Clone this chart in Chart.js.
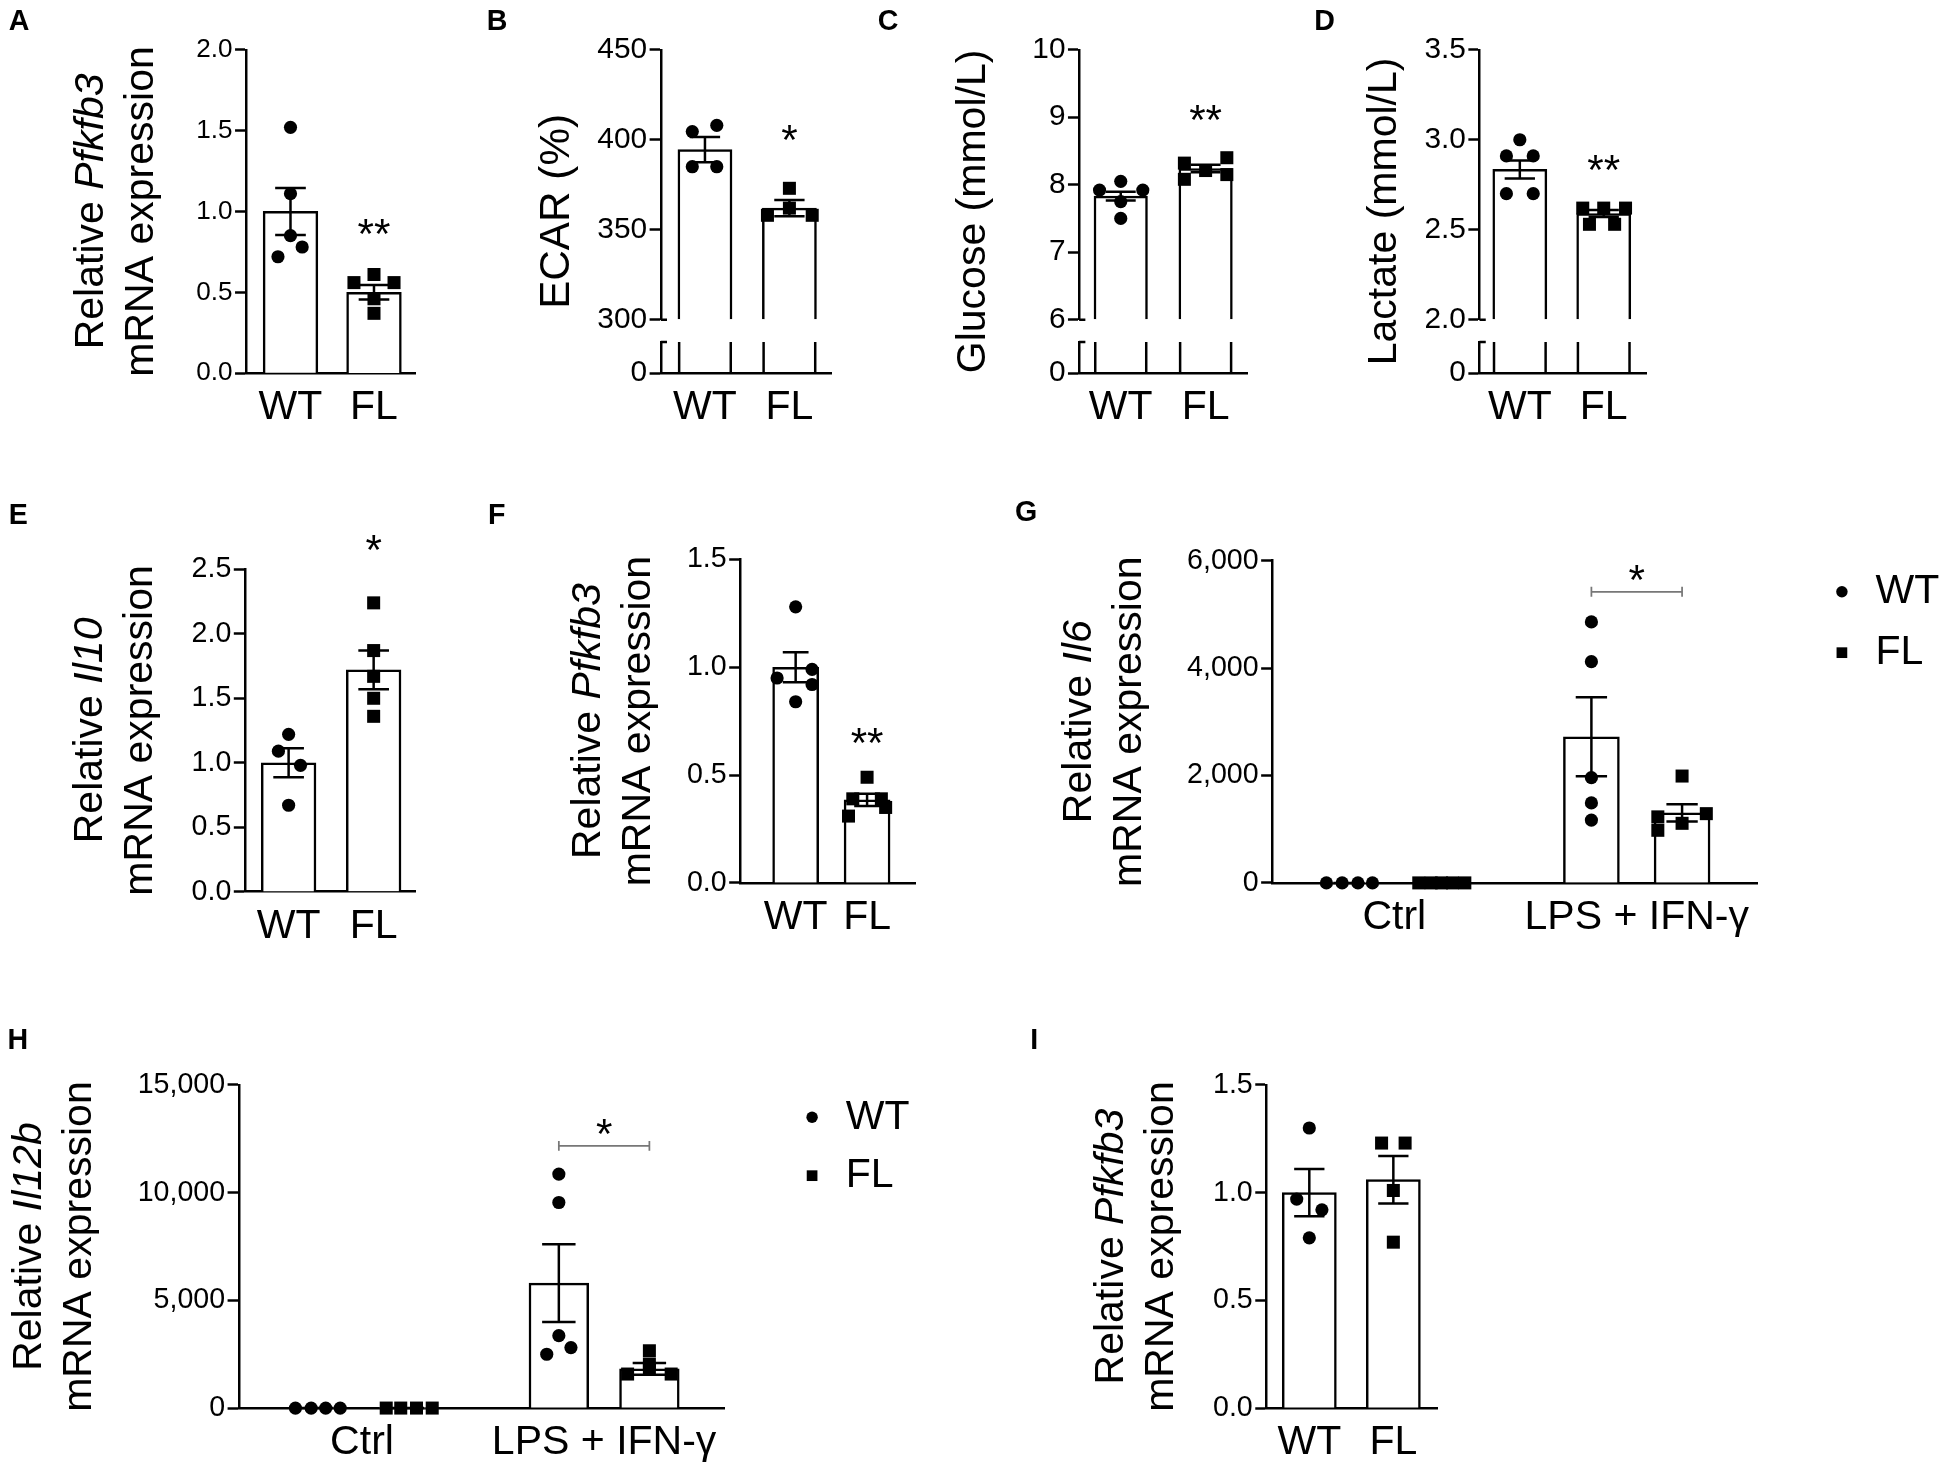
<!DOCTYPE html>
<html>
<head>
<meta charset="utf-8">
<title>Pfkfb3 panels</title>
<script src="https://cdn.jsdelivr.net/npm/chart.js@4.4.1/dist/chart.umd.min.js"></script>
<style>
  html, body { margin: 0; padding: 0; background: #fff; }
  #page { position: relative; width: 1950px; height: 1471px; overflow: hidden; background: #fff; }
  #page canvas { position: absolute; }
</style>
</head>
<body>
<div id="page"></div>
<script>
// ---------- values ----------
const genotypes = ['WT', 'FL'];
const treatments = ['Ctrl', 'LPS + IFN-γ'];

// A  Pfkfb3 mRNA
const aTicks = [0, 0.5, 1.0, 1.5, 2.0];
const aMean = [1.0, 0.5];
const aSem = [0.145, 0.045];
const aWT = [1.52, 1.11, 0.85, 0.78, 0.72];
const aWTdx = [0, 0, 0, 0.14, -0.15];
const aFL = [0.61, 0.56, 0.56, 0.46, 0.37];
const aFLdx = [0, -0.24, 0.24, 0, 0];

// B  ECAR
const bTicks = [300, 350, 400, 450];
const bMean = [394.5, 362];
const bSem = [7, 4.5];
const bWT = [408, 404.5, 385, 385];
const bWTdx = [0.14, -0.15, -0.15, 0.14];
const bFL = [373, 362, 358, 358];
const bFLdx = [0, 0, -0.26, 0.27];

// C  glucose
const cTicks = [6, 7, 8, 9, 10];
const cMean = [7.83, 8.24];
const cSem = [0.065, 0.055];
const cWT = [8.05, 7.92, 7.92, 7.75, 7.5];
const cWTdx = [0, -0.25, 0.26, 0, 0];
const cFL = [8.32, 8.08, 8.21, 8.4, 8.15];
const cFLdx = [-0.25, -0.25, 0, 0.25, 0.25];

// D  lactate
const dTicks = [2.0, 2.5, 3.0, 3.5];
const dMean = [2.835, 2.59];
const dSem = [0.05, 0.02];
const dWT = [3.0, 2.91, 2.91, 2.70, 2.70];
const dWTdx = [0, -0.16, 0.16, -0.16, 0.16];
const dFL = [2.62, 2.62, 2.62, 2.53, 2.53];
const dFLdx = [-0.25, 0, 0.26, -0.17, 0.13];

// E  Il10
const eTicks = [0, 0.5, 1.0, 1.5, 2.0, 2.5];
const eMean = [1.0, 1.72];
const eSem = [0.112, 0.15];
const eWT = [1.22, 1.09, 0.98, 0.67];
const eWTdx = [0, -0.12, 0.14, 0];
const eFL = [2.24, 1.87, 1.67, 1.5, 1.36];
const eFLdx = [0, 0, 0, 0, 0];

// F  Pfkfb3 mRNA
const fTicks = [0, 0.5, 1.0, 1.5];
const fMean = [1.0, 0.385];
const fSem = [0.07, 0.028];
const fWT = [1.28, 0.99, 0.95, 0.92, 0.84];
const fWTdx = [0, 0.23, -0.26, 0.23, 0];
const fFL = [0.49, 0.39, 0.39, 0.35, 0.31];
const fFLdx = [0, -0.2, 0.2, 0.26, -0.26];

// G  Il6
const gTicks = [0, 2000, 4000, 6000];
const gMeanWT = [1, 2720];
const gSemWT = [0.2, 735];
const gMeanFL = [1, 1305];
const gSemFL = [0.2, 160];
const gWTctrl = [1, 1, 1, 1];
const gWTctrlDx = [-0.093, -0.028, 0.037, 0.097];
const gWTlps = [4860, 4120, 1960, 1490, 1170];
const gWTlpsDx = [0, 0, 0, 0, 0];
const gFLctrl = [1, 1, 1, 1, 1];
const gFLctrlDx = [-0.086, -0.035, 0.008, 0.053, 0.104];
const gFLlps = [1990, 1290, 1230, 1110, 980];
const gFLlpsDx = [0, 0.1, -0.1, 0, -0.1];

// H  Il12b
const hTicks = [0, 5000, 10000, 15000];
const hMeanWT = [1, 5800];
const hSemWT = [0.2, 1800];
const hMeanFL = [1, 1820];
const hSemFL = [0.2, 270];
const hWTctrl = [1, 1, 1, 1];
const hWTctrlDx = [-0.088, -0.023, 0.037, 0.097];
const hWTlps = [10860, 9540, 3360, 2810, 2500];
const hWTlpsDx = [0, 0, 0, 0.05, -0.05];
const hFLctrl = [1, 1, 1, 1];
const hFLctrlDx = [-0.087, -0.027, 0.038, 0.103];
const hFLlps = [2660, 2040, 1810, 1580, 1580];
const hFLlpsDx = [0, 0, 0, -0.09, 0.09];

// I  Pfkfb3 mRNA
const iTicks = [0, 0.5, 1.0, 1.5];
const iMean = [1.0, 1.06];
const iSem = [0.11, 0.11];
const iWT = [1.30, 0.97, 0.92, 0.79];
const iWTdx = [0, -0.15, 0.15, 0];
const iFL = [1.23, 1.23, 1.01, 0.77];
const iFLdx = [-0.14, 0.14, 0, 0];

// ---------- drawing helpers ----------
const S = 1950 / 1568;          // layout below is measured on a 1568 px wide copy
const px = v => v * S;
const FAM = "'Liberation Sans', Arial, Helvetica, sans-serif";
const LW = px(2);
const YW = 80;                  // width of the y scale box (labels are clipped to it)
const catFont = { family: FAM, size: px(33) };
const R_DOT = px(5.3), R_SQ = px(7.4);
const page = document.getElementById('page');

const pts = (vals, dx, cx) => vals.map((v, i) => ({ x: cx + dx[i], y: v }));
const bars = (means, xs) => means.map((m, i) => ({ x: xs[i], y: m }));
const fix1 = v => v.toFixed(1);
const plain = v => String(v);
const comma = v => v.toLocaleString('en-US');

function yAxis(ticks, fmt, fs, extra) {
  return Object.assign({
    type: 'linear', position: 'left',
    min: ticks[0], max: ticks[ticks.length - 1],
    afterBuildTicks: s => { s.ticks = ticks.map(v => ({ value: v })); },
    afterFit: s => { s.width = px(YW); },
    ticks: { callback: fmt, font: { family: FAM, size: px(fs) }, color: '#000', padding: px(2) },
    grid: { drawOnChartArea: false, drawTicks: true, tickLength: px(9), tickWidth: LW, tickColor: '#000', color: '#000' },
    border: { display: true, color: '#000', width: LW }
  }, extra);
}

function xAxis(range, labels) {
  return {
    type: 'linear', min: range[0], max: range[1], offset: false,
    afterBuildTicks: s => { s.ticks = labels.map((_, i) => ({ value: i })); },
    afterFit: s => { s.height = px(50); },
    ticks: { callback: v => labels[v], font: catFont, color: '#000', padding: px(8), maxRotation: 0, autoSkip: false },
    grid: { display: false, drawTicks: false },
    border: { display: true, color: '#000', width: LW }
  };
}

function deco(p, L, T) {
  const cx = v => px(v - L), cy = v => px(v - T);
  return {
    id: 'deco',
    afterDatasetDraw(chart, args) {
      const ds = chart.data.datasets[args.index];
      if (!ds.errors) return;
      const y = chart.scales.y, ctx = chart.ctx;
      ctx.save();
      ctx.strokeStyle = '#000';
      ctx.lineWidth = LW;
      args.meta.data.forEach((bar, i) => {
        const m = ds.data[i].y, e = ds.errors[i];
        const y1 = y.getPixelForValue(m + e), y2 = y.getPixelForValue(m - e);
        const hw = bar.width * 0.28;
        ctx.beginPath();
        ctx.moveTo(bar.x, y1); ctx.lineTo(bar.x, y2);
        ctx.moveTo(bar.x - hw, y1); ctx.lineTo(bar.x + hw, y1);
        ctx.moveTo(bar.x - hw, y2); ctx.lineTo(bar.x + hw, y2);
        ctx.stroke();
      });
      ctx.restore();
    },
    afterDraw(chart) {
      const ctx = chart.ctx, xs = chart.scales.x, ys = chart.scales.y;
      ctx.save();
      ctx.fillStyle = '#000';
      ctx.strokeStyle = '#000';

      // panel letter
      ctx.font = `bold ${px(23)}px ${FAM}`;
      ctx.textAlign = 'left';
      ctx.textBaseline = 'alphabetic';
      ctx.fillText(p.letter[0], cx(p.letter[1]), cy(p.letter[2] + 23 * 0.716));

      // rotated y title, italic gene names
      const size = px(p.titleSize || 33);
      const mid = cy((p.area[2] + p.area[3]) / 2);
      p.title.forEach((segs, li) => {
        ctx.save();
        ctx.translate(cx(p.titleX[li]), mid);
        ctx.rotate(-Math.PI / 2);
        let total = 0;
        segs.forEach(([t, it]) => { ctx.font = `${it ? 'italic ' : ''}${size}px ${FAM}`; total += ctx.measureText(t).width; });
        let x = -total / 2;
        ctx.textAlign = 'left';
        segs.forEach(([t, it]) => {
          ctx.font = `${it ? 'italic ' : ''}${size}px ${FAM}`;
          ctx.fillText(t, x, 0);
          x += ctx.measureText(t).width;
        });
        ctx.restore();
      });

      // axis break: short bar stubs and the two break ticks crossing the axis
      if (p.broken) {
        const y0 = chart.scales.y0;
        const top = y0.getPixelForValue(1), bot = y0.getPixelForValue(0);
        const ax = chart.chartArea.left;
        ctx.lineWidth = LW;
        ctx.beginPath();
        [top, ys.getPixelForValue(p.ticks[0])].forEach(yy => { ctx.moveTo(ax, yy); ctx.lineTo(ax + px(5), yy); });
        ctx.stroke();
        chart.getSortedVisibleDatasetMetas().filter(m => m.type === 'bar').forEach(m => {
          m.data.forEach(bar => {
            const h = bar.width / 2 - LW / 2;
            ctx.beginPath();
            ctx.moveTo(bar.x - h, top); ctx.lineTo(bar.x - h, bot);
            ctx.moveTo(bar.x + h, top); ctx.lineTo(bar.x + h, bot);
            ctx.stroke();
          });
        });
      }

      // significance marks
      const starSize = px(34);
      const star = (t, x, yv) => {
        ctx.font = `${starSize}px ${FAM}`;
        ctx.textAlign = 'center';
        ctx.textBaseline = 'alphabetic';
        ctx.fillText(t, x, ys.getPixelForValue(yv) + 0.575 * starSize);
      };
      (p.marks || []).forEach(m => star(m.t, xs.getPixelForValue(m.x), m.y));
      if (p.bracket) {
        const b = p.bracket;
        const x1 = xs.getPixelForValue(b.x1), x2 = xs.getPixelForValue(b.x2), yb = ys.getPixelForValue(b.y);
        ctx.strokeStyle = '#777';
        ctx.lineWidth = px(1.4);
        ctx.beginPath();
        ctx.moveTo(x1, yb); ctx.lineTo(x2, yb);
        ctx.moveTo(x1, yb - px(4)); ctx.lineTo(x1, yb + px(4));
        ctx.moveTo(x2, yb - px(4)); ctx.lineTo(x2, yb + px(4));
        ctx.stroke();
        star('*', (x1 + x2) / 2, b.star);
      }

      // legend
      if (p.legend) {
        const lg = p.legend;
        ctx.fillStyle = '#000';
        ctx.beginPath();
        ctx.arc(cx(lg.x), cy(lg.y1), px(4.6), 0, Math.PI * 2);
        ctx.fill();
        const sq = px(8.6);
        ctx.fillRect(cx(lg.x) - sq / 2, cy(lg.y2) - sq / 2, sq, sq);
        ctx.font = `${px(33)}px ${FAM}`;
        ctx.textAlign = 'left';
        ctx.textBaseline = 'middle';
        ctx.fillText(genotypes[0], cx(lg.tx), cy(lg.y1));
        ctx.fillText(genotypes[1], cx(lg.tx), cy(lg.y2));
      }
      ctx.restore();
    }
  };
}

function panel(p) {
  const [L, T, R, B] = p.box;
  const [ax, ex, top, zero] = p.area;
  const fs = p.tickSize || 23;
  const cv = document.createElement('canvas');
  cv.width = Math.round(px(R - L));
  cv.height = Math.round(px(B - T));
  Object.assign(cv.style, { left: px(L) + 'px', top: px(T) + 'px', width: cv.width + 'px', height: cv.height + 'px' });
  page.appendChild(cv);

  const scales = { x: xAxis(p.xr, p.cats) };
  if (p.broken) {
    const [brk, stub] = p.broken;
    scales.y0 = yAxis([0, 1], v => (v === 0 ? '0' : ''), fs, { stack: 'v', stackWeight: zero - stub });
    scales.yGap = {
      type: 'linear', position: 'left', stack: 'v', stackWeight: stub - brk, min: 0, max: 1,
      afterFit: s => { s.width = px(YW); },
      ticks: { display: false }, grid: { display: false }, border: { display: false }
    };
    scales.y = yAxis(p.ticks, p.fmt, fs, { stack: 'v', stackWeight: brk - top });
  } else {
    scales.y = yAxis(p.ticks, p.fmt, fs, {});
  }

  const datasets = [];
  p.points.forEach(s => datasets.push({
    type: 'scatter', label: s.label, data: s.data, yAxisID: 'y',
    pointStyle: s.label === 'WT' ? 'circle' : 'rect',
    pointRadius: s.label === 'WT' ? R_DOT : R_SQ,
    pointBackgroundColor: '#000', pointBorderWidth: 0, clip: false
  }));
  p.bars.forEach(b => datasets.push({
    type: 'bar', label: b.label, data: b.data, errors: b.errors, yAxisID: 'y',
    base: p.ticks[0],
    backgroundColor: '#fff', borderColor: '#000', borderWidth: LW,
    barThickness: px(p.barW), grouped: false, clip: false
  }));

  new Chart(cv, {
    type: 'bar',
    data: { datasets },
    options: {
      responsive: false, maintainAspectRatio: false, animation: false, devicePixelRatio: 1, events: [],
      layout: { padding: { left: px(ax - L - YW), right: px(R - ex), top: px(top - T), bottom: px(B - zero - 50) } },
      plugins: { legend: { display: false }, tooltip: { enabled: false } },
      scales
    },
    plugins: [deco(p, L, T)]
  });
}

const relTitle = gene => [[['Relative ', 0], [gene, 1]], [['mRNA expression', 0]]];
const G2 = 0.187; // half distance between WT and FL bars inside a treatment group

// ---------- panels ----------
panel({
  box: [0, 0, 372, 365], area: [198, 334, 40, 300], xr: [-0.53, 1.5], barW: 44, tickSize: 21,
  cats: genotypes, ticks: aTicks, fmt: fix1,
  letter: ['A', 7, 8], title: relTitle('Pfkfb3'), titleX: [83, 123],
  points: [{ label: 'WT', data: pts(aWT, aWTdx, 0) }, { label: 'FL', data: pts(aFL, aFLdx, 1) }],
  bars: [{ data: bars(aMean, [0, 1]), errors: aSem }],
  marks: [{ t: '**', x: 1, y: 0.926 }]
});

panel({
  box: [380, 0, 690, 365], area: [531, 668, 40, 300], xr: [-0.523, 1.5], barW: 43.5, tickSize: 24,
  broken: [257, 275],
  cats: genotypes, ticks: bTicks, fmt: plain,
  letter: ['B', 391, 8], title: [[['ECAR (%)', 0]]], titleX: [457], titleSize: 34,
  points: [{ label: 'WT', data: pts(bWT, bWTdx, 0) }, { label: 'FL', data: pts(bFL, bFLdx, 1) }],
  bars: [{ data: bars(bMean, [0, 1]), errors: bSem }],
  marks: [{ t: '*', x: 1, y: 405.4 }]
});

panel({
  box: [695, 0, 1035, 365], area: [868, 1003, 40, 300], xr: [-0.49, 1.49], barW: 43, tickSize: 24,
  broken: [257, 275],
  cats: genotypes, ticks: cTicks, fmt: plain,
  letter: ['C', 706, 8], title: [[['Glucose (mmol/L)', 0]]], titleX: [792], titleSize: 33,
  points: [{ label: 'WT', data: pts(cWT, cWTdx, 0) }, { label: 'FL', data: pts(cFL, cFLdx, 1) }],
  bars: [{ data: bars(cMean, [0, 1]), errors: cSem }],
  marks: [{ t: '**', x: 1, y: 9.11 }]
});

panel({
  box: [1040, 0, 1365, 365], area: [1190, 1324, 40, 300], xr: [-0.48, 1.504], barW: 43.5, tickSize: 24,
  broken: [257, 275],
  cats: genotypes, ticks: dTicks, fmt: fix1,
  letter: ['D', 1057, 8], title: [[['Lactate (mmol/L)', 0]]], titleX: [1123], titleSize: 33,
  points: [{ label: 'WT', data: pts(dWT, dWTdx, 0) }, { label: 'FL', data: pts(dFL, dFLdx, 1) }],
  bars: [{ data: bars(dMean, [0, 1]), errors: dSem }],
  marks: [{ t: '**', x: 1, y: 2.89 }]
});

panel({
  box: [0, 395, 372, 780], area: [197, 334, 458, 717], xr: [-0.513, 1.495], barW: 44,
  cats: genotypes, ticks: eTicks, fmt: fix1,
  letter: ['E', 7, 405], title: relTitle('Il10'), titleX: [82, 122],
  points: [{ label: 'WT', data: pts(eWT, eWTdx, 0) }, { label: 'FL', data: pts(eFL, eFLdx, 1) }],
  bars: [{ data: bars(eMean, [0, 1]), errors: eSem }],
  marks: [{ t: '*', x: 1, y: 2.73 }]
});

panel({
  box: [380, 395, 775, 780], area: [595, 736, 450, 710], xr: [-0.774, 1.678], barW: 37,
  cats: genotypes, ticks: fTicks, fmt: fix1,
  letter: ['F', 392, 405], title: relTitle('Pfkfb3'), titleX: [482, 522],
  points: [{ label: 'WT', data: pts(fWT, fWTdx, 0) }, { label: 'FL', data: pts(fFL, fFLdx, 1) }],
  bars: [{ data: bars(fMean, [0, 1]), errors: fSem }],
  marks: [{ t: '**', x: 1, y: 0.695 }]
});

panel({
  box: [800, 395, 1568, 780], area: [1023, 1413, 451, 710], xr: [-0.503, 1.497], barW: 45,
  cats: treatments, ticks: gTicks, fmt: comma,
  letter: ['G', 816, 403], title: relTitle('Il6'), titleX: [877, 917],
  points: [
    { label: 'WT', data: pts(gWTctrl, gWTctrlDx, -G2).concat(pts(gWTlps, gWTlpsDx, 1 - G2)) },
    { label: 'FL', data: pts(gFLctrl, gFLctrlDx, G2).concat(pts(gFLlps, gFLlpsDx, 1 + G2)) }
  ],
  bars: [
    { label: 'WT', data: bars(gMeanWT, [-G2, 1 - G2]), errors: gSemWT },
    { label: 'FL', data: bars(gMeanFL, [G2, 1 + G2]), errors: gSemFL }
  ],
  bracket: { x1: 1 - G2, x2: 1 + G2, y: 5420, star: 5830 },
  legend: { x: 1481, y1: 476, y2: 525, tx: 1508 }
});

panel({
  box: [0, 815, 770, 1185], area: [192, 582, 872, 1132], xr: [-0.509, 1.496], barW: 48,
  cats: treatments, ticks: hTicks, fmt: comma,
  letter: ['H', 6, 827], title: relTitle('Il12b'), titleX: [33, 73],
  points: [
    { label: 'WT', data: pts(hWTctrl, hWTctrlDx, -G2).concat(pts(hWTlps, hWTlpsDx, 1 - G2)) },
    { label: 'FL', data: pts(hFLctrl, hFLctrlDx, G2).concat(pts(hFLlps, hFLlpsDx, 1 + G2)) }
  ],
  bars: [
    { label: 'WT', data: bars(hMeanWT, [-G2, 1 - G2]), errors: hSemWT },
    { label: 'FL', data: bars(hMeanFL, [G2, 1 + G2]), errors: hSemFL }
  ],
  bracket: { x1: 1 - G2, x2: 1 + G2, y: 12170, star: 13180 },
  legend: { x: 653, y1: 898, y2: 945, tx: 680 }
});

panel({
  box: [815, 815, 1200, 1185], area: [1018, 1155, 872, 1132], xr: [-0.51, 1.52], barW: 43.5,
  cats: genotypes, ticks: iTicks, fmt: fix1,
  letter: ['I', 828, 827], title: relTitle('Pfkfb3'), titleX: [903, 943],
  points: [{ label: 'WT', data: pts(iWT, iWTdx, 0) }, { label: 'FL', data: pts(iFL, iFLdx, 1) }],
  bars: [{ data: bars(iMean, [0, 1]), errors: iSem }]
});
</script>
</body>
</html>
